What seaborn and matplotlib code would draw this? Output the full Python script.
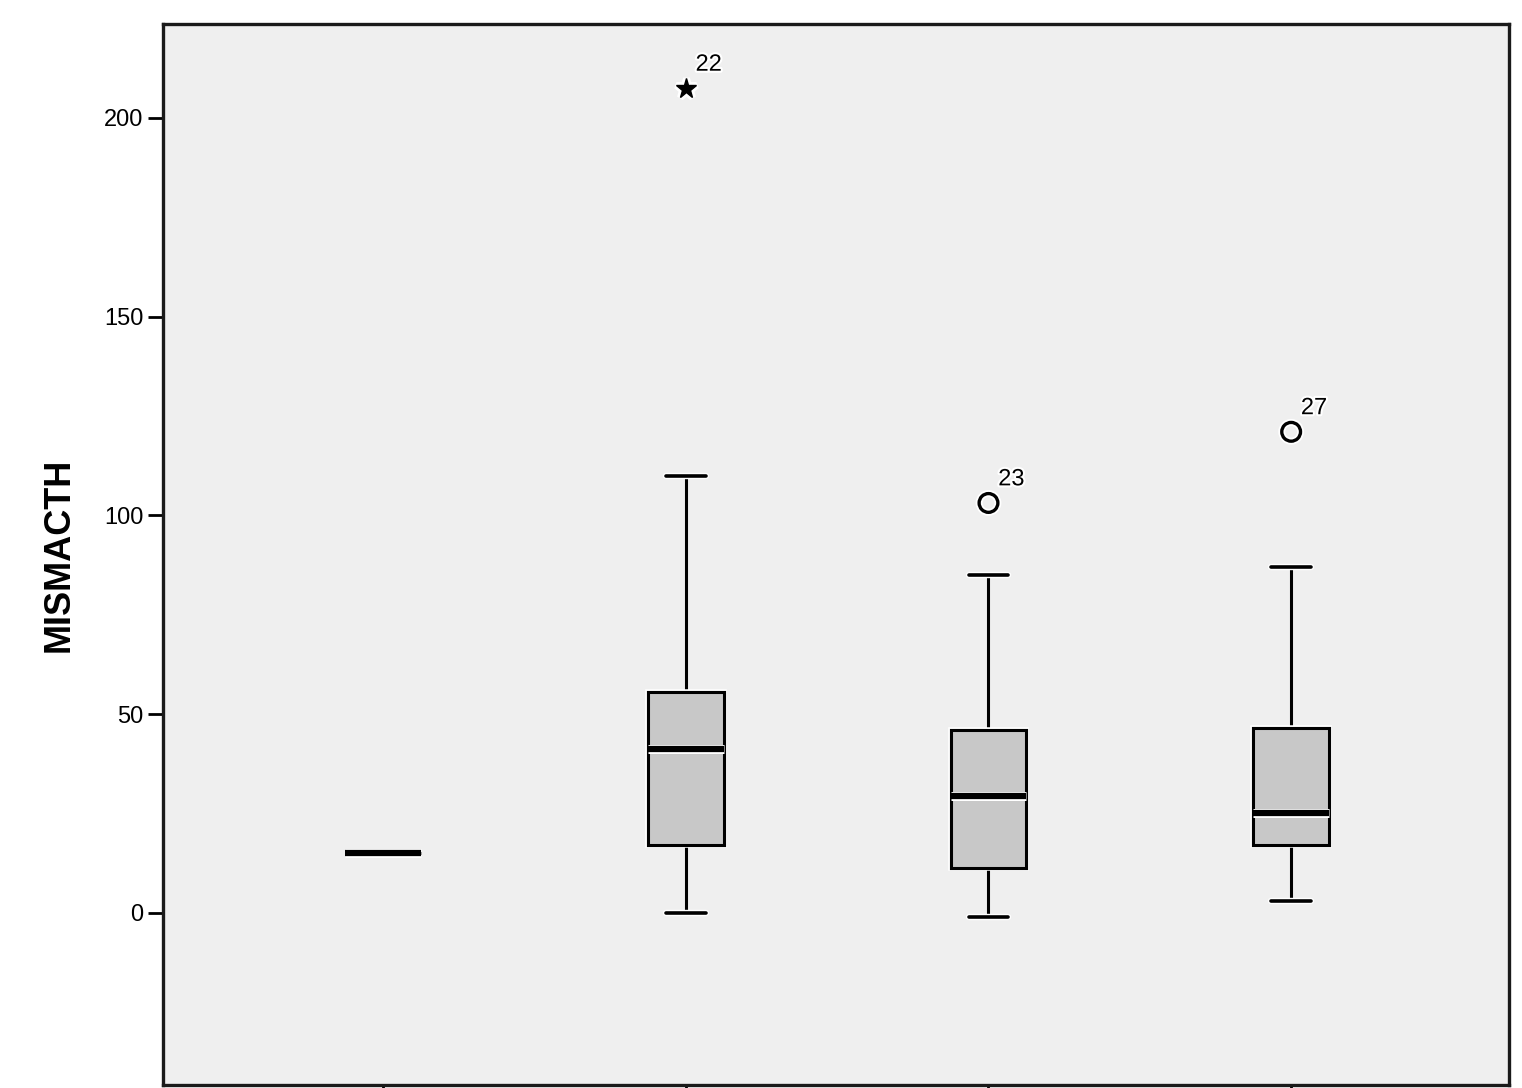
import matplotlib
matplotlib.use('Agg')
import matplotlib.pyplot as plt
import matplotlib.patheffects as pe
import seaborn as sns

# --- dados (resumo de cada boxplot) ---
groups = ['1', '2', '3', '4']
whis_lo = [15, 0, -1, 3]
q1 = [15, 17, 11.2, 17]
median = [15, 41.3, 29.3, 25]
q3 = [15, 55.6, 46.1, 46.6]
whis_hi = [15, 110, 85, 87.1]

# outliers: grupo, valor, rótulo do caso, extremo (estrela) ou não (círculo)
out_group = [1, 2, 3]
out_value = [207.4, 103.1, 121]
out_label = ['22', '23', '27']
out_extreme = [True, False, False]

sns.set_theme(style='white')
plt.rcParams['font.family'] = ['Liberation Sans', 'DejaVu Sans']

fig = plt.figure(figsize=(15.22, 10.88), dpi=100)
ax = fig.add_axes([0.107, 0.0028, 0.8845, 0.9752])
ax.set_facecolor('#efefef')

halo = [pe.withStroke(linewidth=5, foreground='white')]

stats = []
for i, g in enumerate(groups):
    stats.append(dict(label=g, whislo=whis_lo[i], q1=q1[i], med=median[i],
                      q3=q3[i], whishi=whis_hi[i], fliers=[]))

art = ax.bxp(stats, positions=range(len(groups)), widths=0.25, capwidths=0.13,
             patch_artist=True, showfliers=False,
             boxprops=dict(facecolor='#c8c8c8', edgecolor='black', linewidth=2.2),
             medianprops=dict(color='black', linewidth=4.5, solid_capstyle='butt'),
             whiskerprops=dict(color='black', linewidth=2.2),
             capprops=dict(color='black', linewidth=2.6))
for key in ['caps', 'medians']:
    for a in art[key]:
        a.set_path_effects([pe.withStroke(linewidth=a.get_linewidth() + 2,
                                          foreground='white')])
for b in art['boxes']:
    b.set_path_effects([pe.withStroke(linewidth=4, foreground='white'), pe.Normal()])
for w in art['whiskers']:
    w.set_zorder(1.9)

for g, v, lab, ext in zip(out_group, out_value, out_label, out_extreme):
    if ext:
        ax.plot(g, v, marker='*', ms=15, color='black', mec='black',
                path_effects=halo)
    else:
        ax.plot(g, v, marker='o', ms=13.5, mfc='none', mec='black', mew=2.4,
                path_effects=halo)
    ax.annotate(lab, (g, v), xytext=(7, 17), textcoords='offset points',
                ha='left', va='center', fontsize=17, color='black',
                path_effects=[pe.withStroke(linewidth=3, foreground='white')])

ax.set_xlim(-0.728, 3.72)
ax.set_ylim(-43.3, 223.6)
ax.set_yticks([0, 50, 100, 150, 200])
ax.set_xticks(range(len(groups)))
ax.set_xticklabels([])
ax.tick_params(axis='y', labelsize=17, length=11, width=2, left=True, pad=3,
               colors='black')
ax.tick_params(axis='x', length=11, width=2, bottom=True, colors='black')
for s in ax.spines.values():
    s.set_visible(True)
    s.set_color('#1a1a1a')
    s.set_linewidth(2.4)

fig.text(0.039, 0.49, 'MISMACTH', rotation=90, ha='center', va='center',
         fontsize=26, fontweight='bold', color='black')

fig.savefig('out.png', dpi=100, facecolor='white')
